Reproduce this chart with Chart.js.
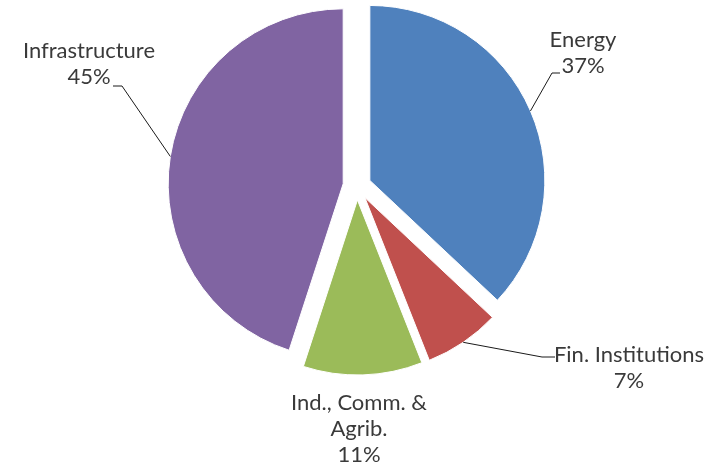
<!DOCTYPE html>
<html>
<head>
<meta charset="utf-8">
<script src="https://cdn.jsdelivr.net/npm/chart.js@4/dist/chart.umd.min.js"></script>
<style>
  html, body { margin: 0; background: #fff; }
</style>
</head>
<body>
<canvas id="pie" width="716" height="466"></canvas>
<script>
const sectors = ['Energy', 'Fin. Institutions', 'Ind., Comm. & Agrib.', 'Infrastructure'];
const shares = [37, 7, 11, 45];
const sliceColors = ['#4f81bd', '#c0504d', '#9bbb59', '#8064a2'];
// label text broken the way the original wraps it
const labelLines = [['Energy'], ['Fin. Institutions'], ['Ind., Comm. &', 'Agrib.'], ['Infrastructure']];

const EXPLODE = 14;
const LINE_GAP = 26;
// first-line baseline centre of each label, plus leader elbow and end
const labelLayout = [
    { x: 583, y: 47, leader: [[552, 73], [560, 73]] },
    { x: 629, y: 362, leader: [[542, 357], [555, 357]] },
    { x: 359, y: 410, leader: null },
    { x: 89, y: 58, leader: [[122, 86], [113, 86]] }
];

// push every slice out along its bisector, like Excel's exploded pie
const explode = {
    id: 'explode',
    afterDatasetsUpdate(chart) {
        chart.getDatasetMeta(0).data.forEach(arc => {
            const mid = (arc.startAngle + arc.endAngle) / 2;
            arc.x += Math.cos(mid) * EXPLODE;
            arc.y += Math.sin(mid) * EXPLODE;
        });
    }
};

const dataLabels = {
    id: 'dataLabels',
    afterDraw(chart) {
        const ctx = chart.ctx;
        const total = shares.reduce((a, b) => a + b, 0);
        ctx.save();
        chart.getDatasetMeta(0).data.forEach((arc, i) => {
            const spot = labelLayout[i];
            if (spot.leader) {
                const mid = (arc.startAngle + arc.endAngle) / 2;
                ctx.beginPath();
                ctx.moveTo(arc.x + Math.cos(mid) * arc.outerRadius, arc.y + Math.sin(mid) * arc.outerRadius);
                spot.leader.forEach(([px, py]) => ctx.lineTo(px, py));
                ctx.strokeStyle = '#1a1a1a';
                ctx.lineWidth = 1;
                ctx.stroke();
            }
            const pct = Math.round(shares[i] / total * 100) + '%';
            const lines = labelLines[i].concat(pct);
            ctx.fillStyle = '#3a3a3a';
            ctx.font = '22px Lato';
            ctx.textAlign = 'center';
            ctx.textBaseline = 'alphabetic';
            lines.forEach((t, k) => ctx.fillText(t, spot.x, spot.y + k * LINE_GAP));
        });
        ctx.restore();
    }
};

new Chart(document.getElementById('pie').getContext('2d'), {
    type: 'pie',
    data: {
        labels: sectors,
        datasets: [{
            data: shares,
            backgroundColor: sliceColors,
            borderColor: '#ffffff',
            borderWidth: 1
        }]
    },
    options: {
        responsive: false,
        animation: false,
        radius: 175,
        layout: {
            padding: { left: 0, right: 2, top: 0, bottom: 94 }
        },
        plugins: {
            legend: { display: false },
            tooltip: { enabled: false }
        }
    },
    plugins: [explode, dataLabels]
});
</script>
</body>
</html>
